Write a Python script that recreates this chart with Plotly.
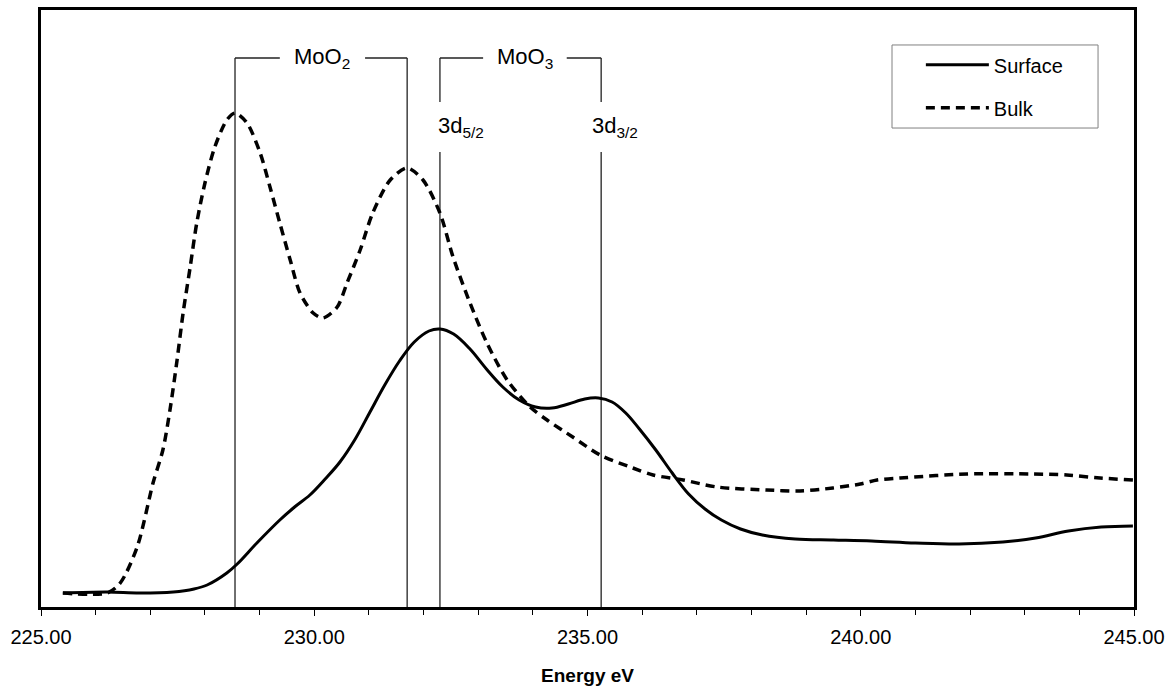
import plotly.graph_objects as go

# ---- data ----
surface_energy = [225.40, 226.21, 226.80, 227.42, 227.80, 228.04, 228.40, 228.59, 228.95, 229.37, 229.64,
                  229.92, 230.20, 230.47, 230.75, 231.02, 231.29, 231.56, 231.83, 232.10,
                  232.30, 232.55, 232.85, 233.15, 233.45, 233.75, 234.05, 234.35, 234.65,
                  234.95, 235.20, 235.45, 235.70, 235.95, 236.25, 236.55, 236.85, 237.15,
                  237.45, 237.80, 238.20, 238.80, 239.50, 240.20, 241.00, 241.80, 242.60,
                  243.20, 243.80, 244.40, 244.98]
surface_intensity = [14, 15, 14, 15, 18, 22, 34, 43, 64, 87, 100,
                     112, 128, 145, 168, 195, 222, 246, 265, 276,
                     278, 273, 258, 238, 220, 207, 200, 199, 203,
                     208, 209, 205, 194, 178, 157, 134, 113, 98,
                     87, 78, 72, 68, 67, 66, 64, 63, 65,
                     69, 76, 80, 81]

bulk_energy = [225.40, 226.21, 226.45, 226.76, 227.05, 227.23, 227.36, 227.49, 227.60,
               227.73, 227.85, 228.00, 228.18, 228.40, 228.55, 228.77, 229.01, 229.19,
               229.37, 229.56, 229.74, 229.98, 230.16, 230.42, 230.60, 230.84, 231.07,
               231.39, 231.70, 231.99, 232.30, 232.54, 232.85, 233.16, 233.53, 233.95,
               234.26, 234.73, 235.23, 235.83, 236.20, 236.75, 237.37, 238.28, 238.89,
               239.49, 239.99, 240.30, 240.72, 241.94, 243.15, 243.77, 244.38, 244.98]
bulk_intensity = [14, 14, 24, 60, 124, 157, 197, 247, 294,
                  340, 384, 424, 460, 487, 494, 484, 454, 420,
                  384, 347, 314, 294, 289, 300, 324, 357, 394,
                  427, 439, 427, 394, 350, 304, 264, 227, 200,
                  187, 170, 152, 139, 132, 127, 120, 117, 116,
                  119, 123, 127, 129, 133, 133, 132, 129, 127]

moo2_peaks = [228.55, 231.70]
moo3_peaks = [232.30, 235.25]
x_ticks = [225, 230, 235, 240, 245]

# ---- figure ----
FONT = "Liberation Sans, Arial, sans-serif"
fig = go.Figure()
fig.add_trace(go.Scatter(x=surface_energy, y=surface_intensity, mode="lines", name="Surface",
                         line=dict(color="black", width=3, shape="spline", smoothing=1.0),
                         legendgroup="s"))
fig.add_trace(go.Scatter(x=bulk_energy, y=bulk_intensity, mode="lines", name="Bulk",
                         line=dict(color="black", width=3.5, dash="9px,6px", shape="spline", smoothing=0.8),
                         legendgroup="b"))

Y_TOP = 549      # bracket level
GAP_LO, GAP_HI = 455, 505
LINE = dict(color="#222222", width=1.3)

shapes = []
# MoO2 bracket
for e in moo2_peaks:
    shapes.append(dict(type="line", x0=e, x1=e, y0=0, y1=Y_TOP, line=LINE, layer="below"))
shapes.append(dict(type="line", x0=moo2_peaks[0], x1=229.37, y0=Y_TOP, y1=Y_TOP, line=LINE, layer="below"))
shapes.append(dict(type="line", x0=230.93, x1=moo2_peaks[1], y0=Y_TOP, y1=Y_TOP, line=LINE, layer="below"))
# MoO3 bracket
for e in moo3_peaks:
    shapes.append(dict(type="line", x0=e, x1=e, y0=0, y1=GAP_LO, line=LINE, layer="below"))
    shapes.append(dict(type="line", x0=e, x1=e, y0=GAP_HI, y1=Y_TOP, line=LINE, layer="below"))
shapes.append(dict(type="line", x0=moo3_peaks[0], x1=233.09, y0=Y_TOP, y1=Y_TOP, line=LINE, layer="below"))
shapes.append(dict(type="line", x0=234.62, x1=moo3_peaks[1], y0=Y_TOP, y1=Y_TOP, line=LINE, layer="below"))
# legend frame
shapes.append(dict(type="rect", xref="paper", yref="paper", x0=0.7786, x1=0.9671, y0=0.8023, y1=0.9414,
                   line=dict(color="#808080", width=1), fillcolor="white", layer="below"))

afont = dict(family=FONT, size=22, color="black")
annotations = [
    dict(x=(229.37 + 230.93) / 2, y=Y_TOP, text="MoO<sub>2</sub>", showarrow=False, font=afont,
         xanchor="center", yanchor="middle"),
    dict(x=(233.09 + 234.62) / 2, y=Y_TOP, text="MoO<sub>3</sub>", showarrow=False, font=afont,
         xanchor="center", yanchor="middle"),
    dict(x=232.26, y=480, text="3d<sub>5/2</sub>", showarrow=False, font=afont,
         xanchor="left", yanchor="middle", xshift=-2),
    dict(x=235.08, y=480, text="3d<sub>3/2</sub>", showarrow=False, font=afont,
         xanchor="left", yanchor="middle", xshift=-2),
]

fig.update_layout(
    width=1169, height=686,
    margin=dict(l=41, r=35, t=10, b=79),
    paper_bgcolor="white", plot_bgcolor="white",
    font=dict(family=FONT, color="black"),
    shapes=shapes, annotations=annotations,
    showlegend=True,
    legend=dict(x=0.805, y=0.941, xanchor="left", yanchor="top",
                bgcolor="rgba(0,0,0,0)", borderwidth=0,
                font=dict(family=FONT, size=20, color="black"),
                itemwidth=63, traceorder="grouped", tracegroupgap=14),
    xaxis=dict(range=[225, 245], tickvals=x_ticks, tickformat=".2f", automargin=False,
               showline=True, linecolor="black", linewidth=3, mirror=True,
               ticks="outside", ticklen=6, tickwidth=1, tickcolor="black",
               minor=dict(dtick=1, ticks="outside", ticklen=5, tickwidth=1, tickcolor="black"),
               showgrid=False, zeroline=False, ticklabelstandoff=4,
               tickfont=dict(family=FONT, size=20, color="black"),
               title=dict(text="<b>Energy eV</b>", font=dict(family=FONT, size=19, color="black"),
                          standoff=22)),
    yaxis=dict(range=[0, 597], showline=True, linecolor="black", linewidth=3, mirror=True,
               automargin=False,
               showticklabels=False, ticks="", showgrid=False, zeroline=False),
)

fig.write_html("out.html")
